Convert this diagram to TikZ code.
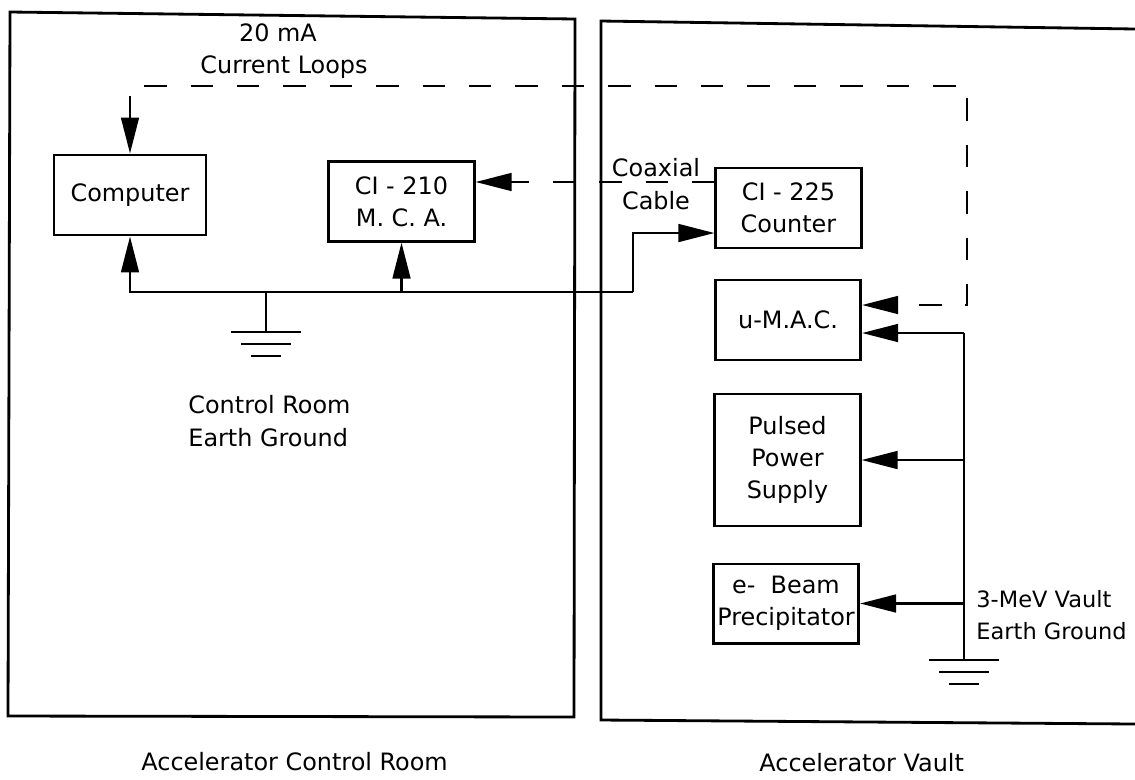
\documentclass[tikz,border=0pt]{standalone}
\usepackage{fontspec}
\setmainfont{DejaVu Sans}
\usetikzlibrary{arrows.meta}

\begin{document}
\begin{tikzpicture}[x=0.025cm, y=-0.025cm,
    font=\fontsize{17}{23}\selectfont,
    line width=2pt,
    unit/.style={draw,align=center,inner sep=0pt,minimum width=3.63cm,minimum height=2cm},
    lbl/.style={inner sep=0pt,align=center},
    arr/.style={-{Triangle[length=9mm,width=4.4mm]}},
    arrs/.style={{Triangle[length=9mm,width=4.4mm]}-{Triangle[length=9mm,width=4.4mm]}},
    loop/.style={dash pattern=on 16pt off 17pt},
    earth/.pic={\draw (-35,0) -- (35,0); \draw (-25,12) -- (25,12); \draw (-15,24) -- (15,24);}
  ]
    \useasboundingbox (0,0) rectangle (1135,779);
    % rooms
    \draw (10,12) -- (575,19) -- (574,717) -- (8,716) -- cycle;
    \draw (1135,29) -- (601,21) -- (601,720) -- (1135,724);
    \node[lbl,anchor=west] (ttlL) at (140,762) {Accelerator Control Room};
    \node[lbl,anchor=west] (ttlR) at (758,763) {Accelerator Vault};

    \node[unit,minimum width=3.8cm] (comp) at (130,195) {Computer};
    \node[unit,minimum height=1.98cm] (mca) at (401.5,201.5) {CI - 210\\M. C. A.};
    \node[unit] (cnt) at (788.5,208) {CI - 225\\Counter};
    \node[unit] (umac) at (788,320) {u-M.A.C.};
    \node[unit,minimum height=3.3cm] (pps) at (787.5,460) {Pulsed\\Power\\Supply};
    \node[unit,minimum height=1.98cm] (ebp) at (786,603.5) {e-\ \ Beam\\Precipitator};

    \node[lbl] (ma) at (278,33) {20 mA};
    \node[lbl] (loops) at (284,67) {Current Loops};
    \node[lbl] (coax) at (656,184) {Coaxial\\Cable};
    \node[lbl,anchor=west,align=left] (crg) at (187,421) {Control Room\\Earth Ground};
    \node[lbl,anchor=west,align=left,font=\fontsize{16}{23}\selectfont] (vgl) at (975,615) {3-MeV Vault\\Earth Ground};

    % current loops and coax
    \coordinate (coaxin) at ([yshift=0.65cm]cnt.west);
    \draw[loop,arr] (coaxin) -- (coaxin -| mca.east);
    \coordinate (loopR) at (967,86);
    \coordinate (umacd) at ([yshift=0.375cm]umac.east);
    \draw[loop,arrs] (comp.north) |- (loopR) |- (umacd);

    % control room ground bus
    \coordinate (jog) at (633,292);
    \coordinate (cntin) at ([yshift=-0.625cm]cnt.west);
    \draw[arr] (jog) -| (comp.south);
    \draw[arr] (mca.south |- jog) -- (mca.south);
    \draw[arr] (jog) |- (cntin);
    \coordinate (cgnd) at (266,332);
    \draw (cgnd |- jog) -- (cgnd);
    \pic at (cgnd) {earth};

    % vault ground
    \coordinate (vgnd) at (964,660);
    \coordinate (umacin) at ([yshift=-0.325cm]umac.east);
    \draw (umacin -| vgnd) -- (vgnd);
    \draw[arr] (umacin -| vgnd) -- (umacin);
    \draw[arr] (pps.east -| vgnd) -- (pps.east);
    \draw[arr] (ebp.east -| vgnd) -- (ebp.east);
    \pic at (vgnd) {earth};
  \end{tikzpicture}
\end{document}
